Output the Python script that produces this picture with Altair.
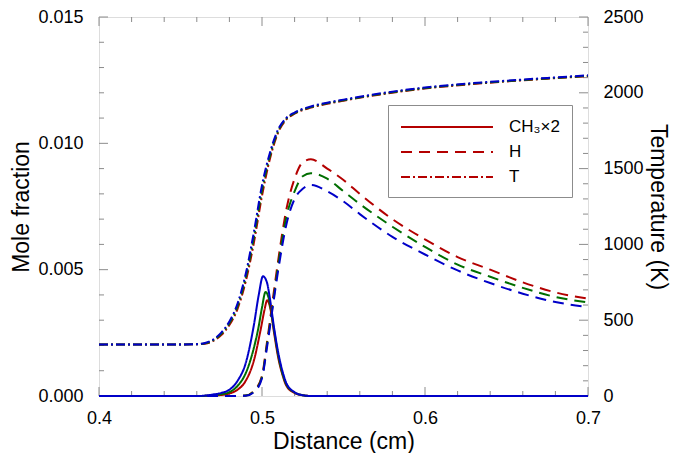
import altair as alt
import pandas as pd

# ---------------- data ----------------
CASES = ["case 1", "case 2", "case 3"]          # red, green, blue
SPECIES = ["CH₃×2", "H", "T"]

# CH3 x 2 mole fraction (solid)
C_red_x = [0.40, 0.46, 0.47, 0.475, 0.48, 0.485, 0.49, 0.495, 0.4994, 0.5015, 0.5032, 0.505, 0.5074, 0.51, 0.5125, 0.515, 0.52, 0.525, 0.53, 0.70]
C_red = [0, 0, 0.00002, 0.00004, 0.0001, 0.00025, 0.0006, 0.0014, 0.0027, 0.0034, 0.00379, 0.0035, 0.0025, 0.0015, 0.00085, 0.0004, 0.00012, 0.00003, 0, 0]
C_green_x = [0.40, 0.46, 0.47, 0.475, 0.48, 0.485, 0.49, 0.495, 0.4978, 0.50, 0.5022, 0.504, 0.5074, 0.51, 0.5125, 0.515, 0.52, 0.525, 0.53, 0.70]
C_green = [0, 0, 0.00003, 0.00007, 0.00015, 0.0004, 0.0009, 0.0019, 0.0027, 0.0035, 0.00412, 0.0039, 0.0026, 0.0016, 0.0009, 0.00045, 0.00014, 0.00003, 0, 0]
C_blue_x = [0.40, 0.46, 0.47, 0.475, 0.48, 0.485, 0.49, 0.495, 0.498, 0.5006, 0.503, 0.505, 0.5074, 0.51, 0.5125, 0.515, 0.52, 0.525, 0.53, 0.70]
C_blue = [0, 0, 0.00006, 0.00012, 0.00025, 0.0006, 0.0013, 0.0028, 0.0040, 0.00474, 0.0045, 0.0038, 0.0027, 0.0017, 0.0010, 0.0005, 0.00015, 0.00003, 0, 0]

# H mole fraction (dashed)
H_x = [0.40, 0.48, 0.49, 0.495, 0.50, 0.503, 0.507, 0.51, 0.515, 0.52, 0.525, 0.53, 0.54, 0.55, 0.56, 0.58, 0.60, 0.62, 0.64, 0.66, 0.68, 0.70]
H_red = [0, 0, 0.00002, 0.0002, 0.0008, 0.0021, 0.0040, 0.0054, 0.0074, 0.0086, 0.00925, 0.00937, 0.0090, 0.00855, 0.0080, 0.0070, 0.0062, 0.0055, 0.0050, 0.0045, 0.0041, 0.00385]
H_green = [0, 0, 0.00002, 0.00018, 0.00075, 0.0020, 0.0038, 0.0052, 0.0071, 0.0081, 0.0087, 0.00882, 0.0086, 0.0081, 0.0076, 0.0067, 0.0059, 0.0052, 0.00472, 0.00428, 0.00392, 0.0037]
H_blue = [0, 0, 0.00001, 0.00015, 0.0007, 0.0019, 0.0037, 0.0050, 0.0068, 0.0078, 0.0082, 0.00835, 0.0081, 0.0077, 0.0072, 0.0063, 0.0056, 0.00497, 0.00447, 0.00405, 0.00372, 0.00352]

# Temperature in K (dash-dot)
T_x = [0.40, 0.45, 0.46, 0.465, 0.47, 0.475, 0.48, 0.485, 0.49, 0.495, 0.50, 0.505, 0.51, 0.515, 0.52, 0.53, 0.54, 0.55, 0.575, 0.60, 0.625, 0.65, 0.675, 0.70]
T_red = [340, 340, 341, 345, 363, 402, 468, 575, 755, 1010, 1320, 1570, 1740, 1825, 1862, 1902, 1927, 1948, 1993, 2028, 2054, 2075, 2093, 2110]
T_green = [340, 340, 341, 347, 367, 410, 480, 592, 780, 1045, 1355, 1590, 1750, 1830, 1866, 1906, 1931, 1951, 1996, 2031, 2057, 2077, 2095, 2112]
T_blue = [340, 340, 342, 350, 372, 418, 492, 610, 805, 1080, 1390, 1610, 1760, 1835, 1870, 1910, 1935, 1955, 2000, 2035, 2060, 2080, 2098, 2115]

# axis tick values
X_MAJOR = [0.4, 0.5, 0.6, 0.7]
X_MINOR = [0.42, 0.44, 0.46, 0.48, 0.52, 0.54, 0.56, 0.58, 0.62, 0.64, 0.66, 0.68]
Y_MAJOR = [0, 0.005, 0.01, 0.015]
Y_MINOR = [0.001, 0.002, 0.003, 0.004, 0.006, 0.007, 0.008, 0.009, 0.011, 0.012, 0.013, 0.014]
T_MAJOR = [0, 500, 1000, 1500, 2000, 2500]
T_MINOR = [100, 200, 300, 400, 600, 700, 800, 900, 1100, 1200, 1300, 1400,
           1600, 1700, 1800, 1900, 2100, 2200, 2300, 2400]

# ---------------- tables ----------------
def rows(xs, ys, case, sp):
    return [{"x": a, "y": b, "case": case, "species": sp} for a, b in zip(xs, ys)]

ch3 = pd.DataFrame(rows(C_red_x, C_red, CASES[0], SPECIES[0]) + rows(C_green_x, C_green, CASES[1], SPECIES[0]) + rows(C_blue_x, C_blue, CASES[2], SPECIES[0]))
hh = pd.DataFrame(rows(H_x, H_red, CASES[0], SPECIES[1]) + rows(H_x, H_green, CASES[1], SPECIES[1]) + rows(H_x, H_blue, CASES[2], SPECIES[1]))
tt = pd.DataFrame(rows(T_x, T_red, CASES[0], SPECIES[2]) + rows(T_x, T_green, CASES[1], SPECIES[2]) + rows(T_x, T_blue, CASES[2], SPECIES[2]))

# ---------------- style ----------------
W, H = 489, 379
FONT = "Liberation Sans"
GRAY = "#8c8c8c"
RED, GREEN, BLUE = "#b40000", "#006e00", "#0000c8"
MAJ, MIN = 9, 5

xs = alt.Scale(domain=[0.4, 0.7], nice=False, zero=False)
ys = alt.Scale(domain=[0, 0.015], nice=False, zero=False)
ts = alt.Scale(domain=[0, 2500], nice=False, zero=False)
color = alt.Color("case:N", scale=alt.Scale(domain=CASES, range=[RED, GREEN, BLUE]), legend=None)
legend = alt.Legend(
    title=None, orient="none", legendX=289, legendY=88,
    symbolType="M-1,0H9.22", symbolSize=324, symbolStrokeWidth=2, symbolStrokeColor=RED,
    labelFont=FONT, labelFontSize=17, labelColor="black", labelOffset=89,
    padding=12, rowPadding=7, strokeColor=GRAY, fillColor="white",
)
dash = alt.StrokeDash("species:N", scale=alt.Scale(domain=SPECIES, range=[[1, 0], [11, 7], [9, 3, 2, 3]]), legend=legend)

x_lab = alt.Axis(orient="bottom", values=X_MAJOR, format=".1f", ticks=False, tickSize=0, domain=False,
                 grid=False, labelFont=FONT, labelFontSize=18, labelPadding=13, labelFlush=False,
                 labelOverlap=False, labelColor="black", title="Distance (cm)", titleFont=FONT,
                 titleFontSize=23, titleFontWeight="normal", titleColor="black", titlePadding=3)
y_lab = alt.Axis(orient="left", values=Y_MAJOR, format=".3f", ticks=False, tickSize=0, domain=False,
                 grid=False, labelFont=FONT, labelFontSize=18, labelPadding=16, labelFlush=False,
                 labelOverlap=False, labelColor="black", title="Mole fraction", titleFont=FONT,
                 titleFontSize=23, titleFontWeight="normal", titleColor="black", titlePadding=4)
t_lab = alt.Axis(orient="right", values=T_MAJOR, format="d", ticks=False, tickSize=0, domain=False,
                 grid=False, labelFont=FONT, labelFontSize=18, labelPadding=15, labelFlush=False,
                 labelOverlap=False, labelColor="black", title="Temperature (K)", titleFont=FONT,
                 titleFontSize=23, titleFontWeight="normal", titleColor="black", titlePadding=2)

line = dict(strokeWidth=2, interpolate="monotone")

l_ch3 = alt.Chart(ch3).mark_line(**line).encode(
    x=alt.X("x:Q", scale=xs, axis=x_lab),
    y=alt.Y("y:Q", scale=ys, axis=y_lab),
    color=color, strokeDash=dash)

l_h = alt.Chart(hh).mark_line(**line).encode(
    x=alt.X("x:Q", scale=xs, axis=None),
    y=alt.Y("y:Q", scale=ys, axis=None),
    color=color, strokeDash=dash)

l_t = alt.Chart(tt).mark_line(**line).encode(
    x=alt.X("x:Q", scale=xs, axis=None),
    y=alt.Y("y:Q", scale=ts, axis=t_lab),
    color=color, strokeDash=dash)


# inward tick marks on all four sides (positions from the axis scales)
def xticks(vals, y0, y1):
    return alt.Chart(pd.DataFrame({"v": vals})).mark_rule(color=GRAY, strokeWidth=1).encode(
        x=alt.X("v:Q", scale=xs, axis=None), y=alt.value(y0), y2=alt.value(y1))


def yticks(vals, scale, x0, x1):
    return alt.Chart(pd.DataFrame({"v": vals})).mark_rule(color=GRAY, strokeWidth=1).encode(
        y=alt.Y("v:Q", scale=scale, axis=None), x=alt.value(x0), x2=alt.value(x1))


tick_layers = [
    xticks(X_MAJOR, H, H - MAJ), xticks(X_MINOR, H, H - MIN),
    xticks(X_MAJOR, 0, MAJ), xticks(X_MINOR, 0, MIN),
    yticks(Y_MAJOR, ys, 0, MAJ), yticks(Y_MINOR, ys, 0, MIN),
    yticks(T_MAJOR, ts, W, W - MAJ), yticks(T_MINOR, ts, W, W - MIN),
]

chart = (
    alt.layer(*tick_layers, l_ch3, l_h, l_t)
    .resolve_scale(x="independent", y="independent")
    .resolve_axis(x="independent", y="independent")
    .properties(width=W, height=H, autosize=alt.AutoSizeParams(type="none"),
                padding={"left": 91, "top": 9, "right": 90, "bottom": 57})
    .configure_view(stroke=GRAY, strokeWidth=1)
    .configure(background="white")
)

chart.save("out.html", embed_options={"renderer": "svg", "actions": False})
